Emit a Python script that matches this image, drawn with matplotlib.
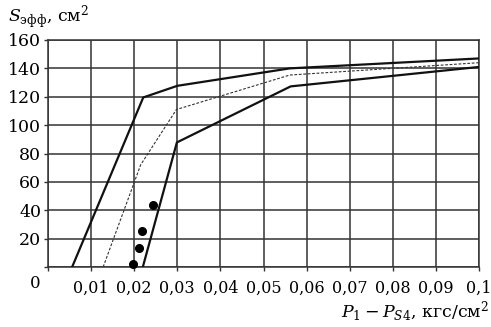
import numpy as np
import matplotlib
matplotlib.use("Agg")
import matplotlib.pyplot as plt

# curve data (x in kgf/cm2, y in cm2)
upper_x = [0.0056, 0.0221, 0.0300, 0.0561, 0.1]
upper_y = [0, 119.5, 127.7, 140, 147]
middle_x = [0.0128, 0.0215, 0.0298, 0.0561, 0.1]
middle_y = [0, 72, 111, 135.3, 144]
lower_x = [0.0220, 0.0299, 0.0563, 0.1]
lower_y = [0, 87.8, 127.3, 141]
points_x = [0.0198, 0.0210, 0.0218, 0.0243]
points_y = [2, 13.2, 25.4, 44]

x_ticks = [0, 0.01, 0.02, 0.03, 0.04, 0.05, 0.06, 0.07, 0.08, 0.09, 0.1]
x_labels = ["", "0,01", "0,02", "0,03", "0,04", "0,05", "0,06", "0,07", "0,08", "0,09", "0,1"]
y_ticks = [0, 20, 40, 60, 80, 100, 120, 140, 160]
y_labels = ["", "20", "40", "60", "80", "100", "120", "140", "160"]

plt.rcParams["font.family"] = ["DejaVu Serif"]
plt.rcParams["mathtext.fontset"] = "dejavuserif"

W, H = 491, 327
fig = plt.figure(figsize=(W / 100, H / 100), dpi=100)
ax = fig.add_axes([48 / W, 1 - 267 / H, (479 - 48) / W, (267 - 40) / H])

grid_col = "#333333"
ax.set_xlim(0, 0.1)
ax.set_ylim(0, 160)
ax.set_xticks(x_ticks)
ax.set_xticklabels(x_labels)
ax.set_yticks(y_ticks)
ax.set_yticklabels(y_labels)
ax.grid(True, color=grid_col, linewidth=1.1)
for s in ax.spines.values():
    s.set_color(grid_col)
    s.set_linewidth(1.1)
ax.tick_params(direction="out", length=3, width=1, color=grid_col)
ax.tick_params(axis="y", labelsize=12.5, pad=2)
ax.tick_params(axis="x", labelsize=11.5, pad=6)

ax.plot(upper_x, upper_y, color="#111111", lw=1.6, zorder=3)
ax.plot(middle_x, middle_y, color="#333333", lw=0.8, ls=(0, (2.5, 1.5)), zorder=3)
ax.plot(lower_x, lower_y, color="#111111", lw=1.6, zorder=3)
ax.plot(points_x, points_y, "o", color="black", ms=5.5, zorder=4, clip_on=False)

fig.text(35 / W, 1 - 284 / H, "0", fontsize=12, ha="center", va="center")
fig.text(8 / W, 1 - 22 / H, r"$S_{\mathrm{эфф}}$, см$^2$", fontsize=12.5, ha="left", va="baseline")
fig.text(489 / W, 1 - 318 / H, r"$P_1 - P_{S4}$, кгс/см$^2$", fontsize=12.5, ha="right", va="baseline")

fig.savefig("out.png", dpi=100)
